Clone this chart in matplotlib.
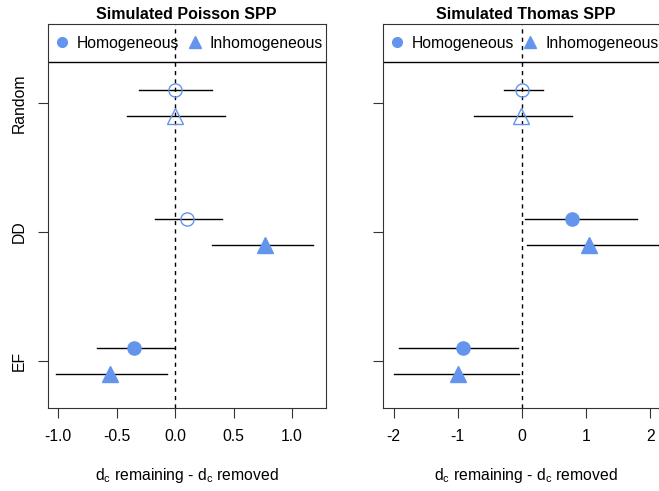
import numpy as np
import matplotlib.pyplot as plt
from matplotlib.lines import Line2D

plt.rcParams['font.family'] = ['Liberation Sans', 'DejaVu Sans']

# data
groups = ["EF", "DD", "Random"]
ypos = [1, 2, 3]

# Poisson: estimate, lower, upper  (order EF, DD, Random)
pois_hom = [-0.35, 0.10, 0.0]
pois_hom_lo = [-0.67, -0.17, -0.31]
pois_hom_hi = [-0.01, 0.40, 0.32]
pois_inh = [-0.56, 0.77, 0.0]
pois_inh_lo = [-1.02, 0.32, -0.41]
pois_inh_hi = [-0.07, 1.18, 0.43]

# Thomas
thom_hom = [-0.92, 0.78, 0.0]
thom_hom_lo = [-1.91, 0.04, -0.28]
thom_hom_hi = [-0.07, 1.79, 0.33]
thom_inh = [-0.99, 1.04, -0.02]
thom_inh_lo = [-2.0, 0.08, -0.74]
thom_inh_hi = [-0.05, 2.12, 0.78]

col = "#6495ED"
off = 0.1
fs = 11.3


def panel(ax, title, hom, hlo, hhi, inh, ilo, ihi, xlim, xticks, xticklabels):
    ax.axvline(0, color="black", ls=(0, (3, 3)), lw=1, zorder=1)
    for i, y in enumerate(ypos):
        # homogeneous
        ax.plot([hlo[i], hhi[i]], [y + off, y + off], color="black", lw=1, zorder=2)
        sig = hlo[i] > 0 or hhi[i] < 0
        ax.plot(hom[i], y + off, "o", ms=9.5, zorder=3,
                mfc=col if sig else "none", mec=col, mew=1)
        # inhomogeneous
        ax.plot([ilo[i], ihi[i]], [y - off, y - off], color="black", lw=1, zorder=2)
        sig = ilo[i] > 0 or ihi[i] < 0
        ax.plot(inh[i], y - off, "^", ms=12, zorder=3,
                mfc=col if sig else "none", mec=col, mew=1)
    ax.set_xlim(xlim)
    ax.set_ylim(0.636, 3.612)
    ax.axhline(3.317, color="black", lw=1)
    ax.set_xticks(xticks)
    ax.set_xticklabels(xticklabels, fontsize=fs)
    ax.set_yticks(ypos)
    ax.tick_params(direction="out", length=7.2, width=0.8, pad=8, color="#333333")
    ax.set_xlabel(r"d$_\mathregular{c}$ remaining - d$_\mathregular{c}$ removed",
                  fontsize=fs, labelpad=16)
    ax.set_title(title, fontsize=11.5, fontweight="bold", pad=3.5)
    for s in ax.spines.values():
        s.set_linewidth(0.8)
        s.set_color("#333333")
    handles = [Line2D([], [], marker="o", ls="none", color=col, ms=7),
               Line2D([], [], marker="^", ls="none", color=col, ms=9)]
    ax.legend(handles, ["Homogeneous", "Inhomogeneous"], loc="center left",
              bbox_to_anchor=(0.0, 1 - 19 / 384), ncol=2, frameon=False, fontsize=fs,
              handlelength=1.0, handletextpad=0.46, columnspacing=0.5,
              borderaxespad=0, borderpad=0.4)


fig = plt.figure(figsize=(6.59, 4.91), dpi=100)
ax1 = fig.add_axes([0.0721, 0.169, 0.422, 0.782])
ax2 = fig.add_axes([0.5812, 0.169, 0.434, 0.782])

panel(ax1, "Simulated Poisson SPP", pois_hom, pois_hom_lo, pois_hom_hi,
      pois_inh, pois_inh_lo, pois_inh_hi, (-1.09, 1.287),
      [-1.0, -0.5, 0.0, 0.5, 1.0], ["-1.0", "-0.5", "0.0", "0.5", "1.0"])
panel(ax2, "Simulated Thomas SPP", thom_hom, thom_hom_lo, thom_hom_hi,
      thom_inh, thom_inh_lo, thom_inh_hi, (-2.165, 2.29),
      [-2, -1, 0, 1, 2], ["-2", "-1", "0", "1", "2"])

ax1.set_yticklabels(groups, rotation=90, va="center", fontsize=fs)
ax1.tick_params(axis="y", pad=8)
ax2.set_yticklabels([])

plt.savefig("out.png", dpi=100)
